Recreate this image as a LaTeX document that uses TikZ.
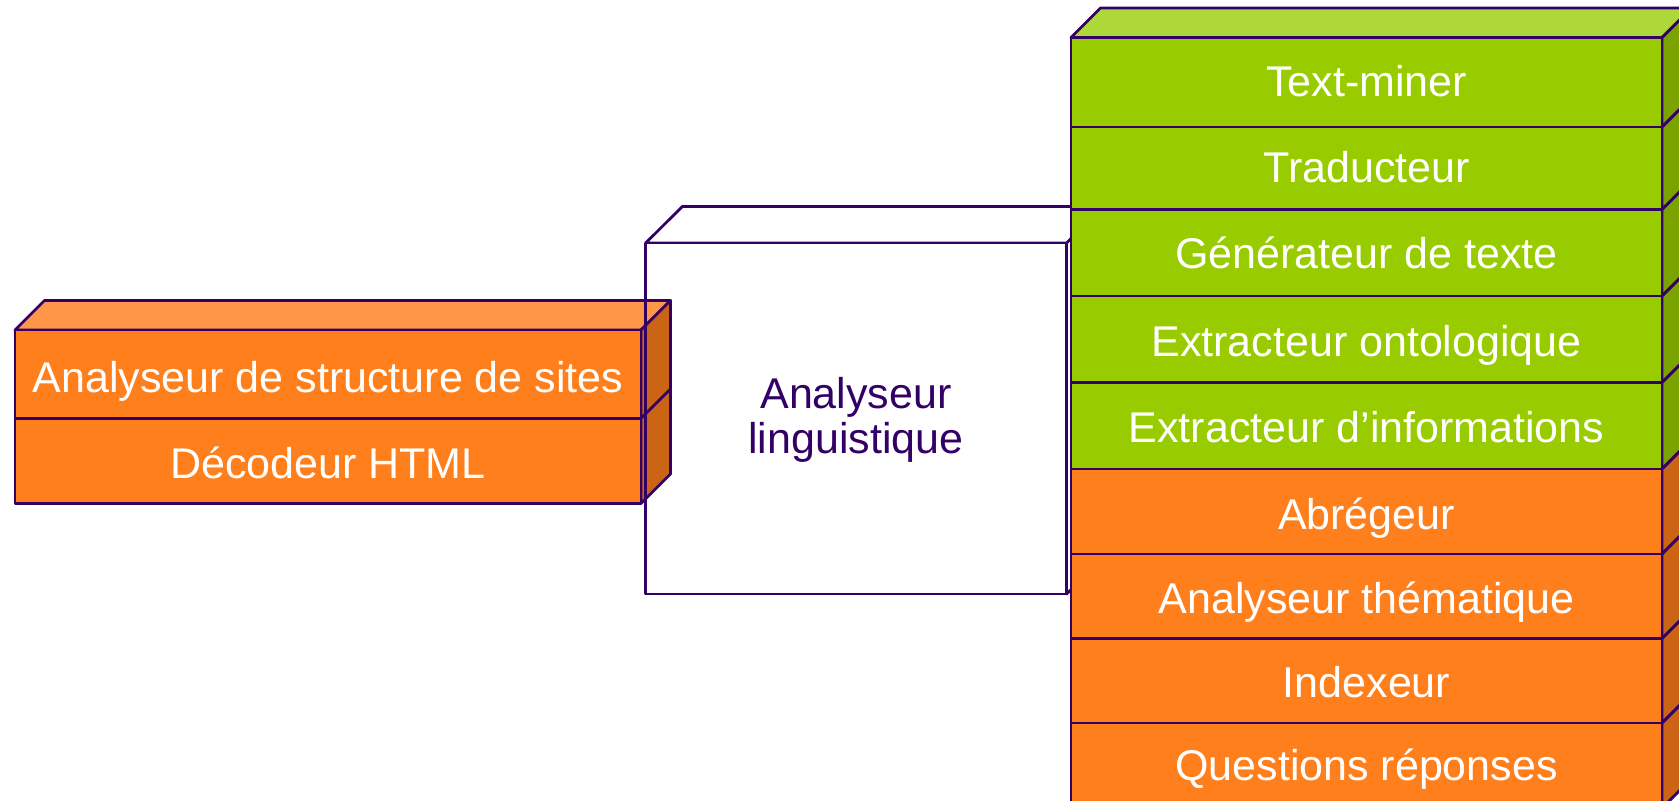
\documentclass[tikz,border=0pt]{standalone}
\usepackage{fontspec}
\setmainfont{Liberation Sans}
\definecolor{edge}{HTML}{330066}
\definecolor{grfront}{HTML}{99CC00}
\definecolor{grtop}{HTML}{AED83A}
\definecolor{grside}{HTML}{7AA300}
\definecolor{orfront}{HTML}{FF7F1C}
\definecolor{ortop}{HTML}{FF9648}
\definecolor{orside}{HTML}{CC6415}
\tikzset{
  face/.style={draw=edge, line width=1.4pt, line join=round},
  lbl/.style={text=white, font=\fontsize{21.5}{23}\selectfont, inner sep=0pt, text height=15.5pt, text depth=1pt},
  midlbl/.style={text=edge, font=\fontsize{21.5}{22.5}\selectfont, inner sep=0pt, align=center},
}
% #1 name, #2 x1, #3 y1, #4 x2, #5 y2, #6 depth, #7 colour prefix, #8 text, #9 label shift
\newcommand\boxrow[9]{%
  \filldraw[face, fill=#7side] (#4,#3) -- ++(#6,-#6) -- ++(0,{#5-(#3)}) -- (#4,#5) -- cycle;
  \filldraw[face, fill=#7front] (#2,#3) rectangle (#4,#5);
  \node[lbl] (#1) at ({(#2+#4)/2},{(#3+#5)/2+#9}) {#8};
}
\begin{document}
\begin{tikzpicture}[x=0.5pt,y=-0.5pt]
\useasboundingbox (0,0) rectangle (1679,801);
\clip (0,0) rectangle (1679,801);
% middle box
\filldraw[face, fill=white] (1066.5,243) -- (1103,206.5) -- (1103,557.5) -- (1066.5,594) -- cycle;
\filldraw[face, fill=white] (645.7,243) -- (682.3,206.5) -- (1103,206.5) -- (1066.5,243) -- cycle;
\filldraw[face, fill=white] (645.7,243) rectangle (1066.5,594);
\node[midlbl] (m) at (856,419.5) {Analyseur\\linguistique};
% left box
\filldraw[face, fill=ortop] (15,330) -- (44.5,300.5) -- (670.5,300.5) -- (641,330) -- cycle;
\boxrow{l1}{15}{330}{641}{418.5}{29.5}{or}{Analyseur de structure de sites}{3.5}
\boxrow{l2}{15}{418.5}{641}{503.5}{29.5}{or}{Décodeur HTML}{3.5}
\draw[face] (645.7,243) -- (645.7,594);
% right stack
\filldraw[face, fill=grtop] (1071,37.5) -- (1100.5,8) -- (1691.5,8) -- (1662,37.5) -- cycle;
\boxrow{r1}{1071}{37.5}{1662}{127}{29.5}{gr}{Text-miner}{0}
\boxrow{r2}{1071}{127}{1662}{209.5}{29.5}{gr}{Traducteur}{0}
\boxrow{r3}{1071}{209.5}{1662}{296}{29.5}{gr}{Générateur de texte}{1}
\boxrow{r4}{1071}{296}{1662}{382.5}{29.5}{gr}{Extracteur ontologique}{2.5}
\boxrow{r5}{1071}{382.5}{1662}{469}{29.5}{gr}{Extracteur d’informations}{2.5}
\boxrow{r6}{1071}{469}{1662}{554}{29.5}{or}{Abrégeur}{3}
\boxrow{r7}{1071}{554}{1662}{638.5}{29.5}{or}{Analyseur thématique}{3}
\boxrow{r8}{1071}{638.5}{1662}{723}{29.5}{or}{Indexeur}{2}
\boxrow{r9}{1071}{723}{1662}{808}{29.5}{or}{Questions réponses}{0}
\end{tikzpicture}
\end{document}
